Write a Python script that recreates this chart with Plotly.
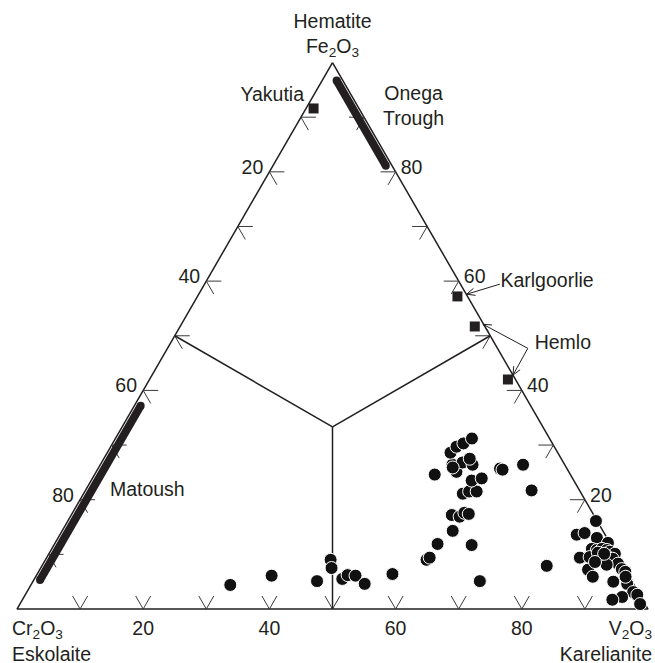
import math
import plotly.graph_objects as go

# ---------------- data (ternary %, Fe2O3 / Cr2O3 / V2O3) ----------------
TICK_STEPS = [10, 20, 30, 40, 50, 60, 70, 80, 90]
LEFT_TICK_LABELS = [20, 40, 60, 80]      # Cr2O3 %
BOTTOM_TICK_LABELS = [20, 40, 60, 80]    # V2O3 %
RIGHT_TICK_LABELS = [80, 60, 40, 20]     # Fe2O3 %

CIRCLE_FE = [4.4, 6.1, 5.1, 9.0, 7.5, 5.5, 6.2, 6.1, 4.6, 6.4,
             9.0, 9.4, 5.1, 7.9, 11.9, 11.7, 14.3, 17.2, 16.9, 17.6,
             17.4, 21.1, 21.5, 21.5, 23.5, 23.9, 24.6, 25.1, 26.4, 26.8,
             26.4, 27.5, 28.6, 29.7, 30.3, 31.2, 25.7, 26.4, 21.7, 16.1,
             13.6, 13.9, 13.0, 12.1, 11.0, 10.8, 11.0, 10.8, 10.5, 10.1,
             9.4, 9.5, 9.2, 9.7, 9.2, 8.3, 8.1, 7.3, 7.2, 5.9,
             6.8, 5.0, 4.6, 3.1, 2.2, 1.7, 2.6, 0.9, 5.9, 10.3,
             10.1, 8.6, 25.5, 25.9]
CIRCLE_CR = [64.0, 56.6, 49.9, 45.8, 46.4, 45.7, 44.5, 43.3, 42.6, 37.3,
             30.6, 29.9, 24.1, 12.1, 27.4, 22.1, 23.8, 22.5, 21.4, 20.3,
             19.7, 18.8, 17.6, 16.4, 16.2, 14.4, 21.5, 17.8, 17.8, 16.0,
             14.6, 14.5, 17.0, 15.5, 14.1, 12.3, 10.6, 6.6, 7.6, 0.2,
             4.5, 3.1, 1.6, 0.3, 3.4, 2.7, 1.8, 1.1, 0.8, 0.2,
             6.1, 4.5, 3.0, 1.7, 1.0, 0.6, 2.5, 0.5, 5.9, 5.8,
             0.2, 3.0, 1.0, 0.8, 3.0, 4.8, 0.4, 0.8, 0.6, 2.8,
             1.9, 4.1, 10.3, 18.0]
CIRCLE_V = [31.6, 37.3, 45.0, 45.2, 46.1, 48.8, 49.3, 50.6, 52.8, 56.3,
            60.4, 60.7, 70.8, 80.0, 60.7, 66.2, 61.9, 60.3, 61.7, 62.1,
            62.9, 60.1, 60.9, 62.1, 60.3, 61.7, 53.9, 57.1, 55.8, 57.2,
            59.0, 58.0, 54.4, 54.8, 55.6, 56.5, 63.7, 67.0, 70.7, 83.7,
            81.9, 83.0, 85.4, 87.6, 85.6, 86.5, 87.2, 88.1, 88.7, 89.7,
            84.5, 86.0, 87.8, 88.6, 89.8, 91.1, 89.4, 92.2, 86.9, 88.3,
            93.0, 92.0, 94.4, 96.1, 94.8, 93.5, 97.0, 98.3, 93.5, 86.9,
            88.0, 87.3, 64.2, 56.1]

SQUARE_NAMES = ["Yakutia", "Karlgoorlie", "Hemlo", "Hemlo"]
SQUARE_FE = [91.6, 57.2, 51.7, 42.0]
SQUARE_CR = [7.2, 1.6, 1.6, 1.2]
SQUARE_V = [1.2, 41.2, 46.7, 56.8]

ONEGA_FE = [96.7, 81.1]
ONEGA_CR = [1.0, 1.0]
ONEGA_V = [2.3, 17.9]

MATOUSH_FE = [37.2, 5.3]
MATOUSH_CR = [61.8, 93.7]
MATOUSH_V = [1.0, 1.0]

LABEL_TEXT = ["Yakutia", "Onega<br>Trough", "Matoush", "Karlgoorlie", "Hemlo"]
LABEL_FE = [93.9, 91.7, 21.5, 59.8, 48.4]
LABEL_CR = [12.6, -8.7, 68.6, -13.9, -10.7]
LABEL_V = [-6.5, 17.0, 9.9, 54.1, 62.3]

# callout arrows (Fe, Cr, V)
ARROW_TAIL = [(59.45, -6.25, 46.8), (47.7, -4.8, 57.1), (47.7, -4.8, 57.1)]
ARROW_TIP = [(57.6, -0.06, 42.46), (52.1, 0.1, 47.8), (42.8, 0.0, 57.2)]

# ---------------- style / geometry ----------------
INK = "#231f20"
FONT = dict(family="Liberation Sans, Arial, Helvetica, sans-serif", size=19.5, color=INK)
W, H = 655, 663
SCALE = 6.31                 # screen pixels per ternary unit (side = 100 units)
ORIGIN_PX = (17, 609)        # pixel position of the Cr2O3 apex
XR = [-ORIGIN_PX[0] / SCALE, (W - ORIGIN_PX[0]) / SCALE]
YR = [-(H - ORIGIN_PX[1]) / SCALE, ORIGIN_PX[1] / SCALE]
PX = 1.0 / SCALE
TICK_LEN = 15 * PX
S3 = math.sqrt(3) / 2


def proj(fe, cr, v):
    s = fe + cr + v
    fe, v = fe * 100.0 / s, v * 100.0 / s
    return v + fe / 2.0, fe * S3


def shift(pt, dx_px, dy_px):
    x, y = proj(*pt)
    return x + dx_px * PX, y + dy_px * PX


def arrow_head(tail, tip, length_px=9, half_angle=24):
    x0, y0 = proj(*tail)
    x1, y1 = proj(*tip)
    ang = math.atan2(y0 - y1, x0 - x1)
    pts = []
    for s in (1, -1):
        t = ang + s * math.radians(half_angle)
        pts.append((x1 + length_px * PX * math.cos(t), y1 + length_px * PX * math.sin(t)))
    return [pts[0], (x1, y1), pts[1]]


def seg_trace(paths, width, color):
    X, Y = [], []
    for path in paths:
        for pt in path:
            x, y = pt if len(pt) == 2 else proj(*pt)
            X.append(x); Y.append(y)
        X.append(None); Y.append(None)
    return go.Scatter(x=X, y=Y, mode="lines", line=dict(color=color, width=width),
                      hoverinfo="skip", cliponaxis=False, showlegend=False)


def series_trace(fe, cr, v, **kw):
    xy = [proj(a, b, c) for a, b, c in zip(fe, cr, v)]
    return go.Scatter(x=[p[0] for p in xy], y=[p[1] for p in xy],
                      hoverinfo="skip", cliponaxis=False, showlegend=False, **kw)


def text_trace(points_xy, texts, position):
    return go.Scatter(x=[p[0] for p in points_xy], y=[p[1] for p in points_xy],
                      mode="text", text=texts, textposition=position, textfont=FONT,
                      hoverinfo="skip", cliponaxis=False, showlegend=False)


fig = go.Figure()

# triangle frame
fig.add_trace(seg_trace([[(100, 0, 0), (0, 100, 0), (0, 0, 100), (100, 0, 0)]], 1.5, INK))

# tick marks (chevrons)
d = TICK_LEN
tick_paths = []
for t in TICK_STEPS:
    tick_paths.append([(100 - t, t - d, d), (100 - t, t, 0), (100 - t - d, t, d)])      # left
    tick_paths.append([(t, d, 100 - t - d), (t, 0, 100 - t), (t - d, d, 100 - t)])      # right
    tick_paths.append([(d, 100 - t, t - d), (0, 100 - t, t), (d, 100 - t - d, t)])      # bottom
fig.add_trace(seg_trace(tick_paths, 1, "#3a3a3a"))

# field boundaries
cen = (100 / 3, 100 / 3, 100 / 3)
fig.add_trace(seg_trace([[cen, (50, 50, 0)], [cen, (50, 0, 50)], [cen, (0, 50, 50)]], 1.5, INK))

# thick solid-solution bars (round ends)
for fe, cr, v in ((ONEGA_FE, ONEGA_CR, ONEGA_V), (MATOUSH_FE, MATOUSH_CR, MATOUSH_V)):
    fig.add_trace(series_trace(fe, cr, v, mode="lines+markers",
                               line=dict(color=INK, width=8),
                               marker=dict(size=8, color=INK)))

# squares
fig.add_trace(series_trace(SQUARE_FE, SQUARE_CR, SQUARE_V, mode="markers",
                           marker=dict(symbol="square", size=10, color=INK)))

# circles
fig.add_trace(series_trace(CIRCLE_FE, CIRCLE_CR, CIRCLE_V, mode="markers",
                           marker=dict(symbol="circle", size=13, color="#111111",
                                       line=dict(color="white", width=1))))

# callout arrows
arrow_paths = []
for tail, tip in zip(ARROW_TAIL, ARROW_TIP):
    arrow_paths.append([tail, tip])
    arrow_paths.append(arrow_head(tail, tip))
fig.add_trace(seg_trace(arrow_paths, 1, INK))

# tick labels
fig.add_trace(text_trace([shift((100 - t, t, 0), -17, 3) for t in LEFT_TICK_LABELS],
                         [str(t) for t in LEFT_TICK_LABELS], "middle center"))
fig.add_trace(text_trace([shift((f, 0, 100 - f), 16, 3) for f in RIGHT_TICK_LABELS],
                         [str(f) for f in RIGHT_TICK_LABELS], "middle center"))
fig.add_trace(text_trace([shift((0, 100 - v, v), 0, -21) for v in BOTTOM_TICK_LABELS],
                         [str(v) for v in BOTTOM_TICK_LABELS], "middle center"))

# apex titles
fig.add_trace(text_trace([shift((100, 0, 0), 0, 27)], ["Hematite<br>Fe<sub>2</sub>O<sub>3</sub>"], "middle center"))
fig.add_trace(text_trace([shift((0, 100, 0), -5, -34)], ["Cr<sub>2</sub>O<sub>3</sub><br>Eskolaite"], "middle right"))
fig.add_trace(text_trace([shift((0, 0, 100), 4, -34)], ["V<sub>2</sub>O<sub>3</sub><br>Karelianite"], "middle left"))

# locality labels
fig.add_trace(text_trace([proj(*p) for p in zip(LABEL_FE, LABEL_CR, LABEL_V)], LABEL_TEXT, "middle center"))

fig.update_layout(
    width=W, height=H,
    margin=dict(l=0, r=0, t=0, b=0),
    paper_bgcolor="white", plot_bgcolor="white",
    showlegend=False, hovermode=False,
    xaxis=dict(visible=False, range=XR, fixedrange=True),
    yaxis=dict(visible=False, range=YR, fixedrange=True),
)

fig.write_html("out.html", config=dict(displayModeBar=False),
               post_script="document.body.style.margin='0';document.body.style.padding='0';"
                           "document.body.style.overflow='hidden';")
